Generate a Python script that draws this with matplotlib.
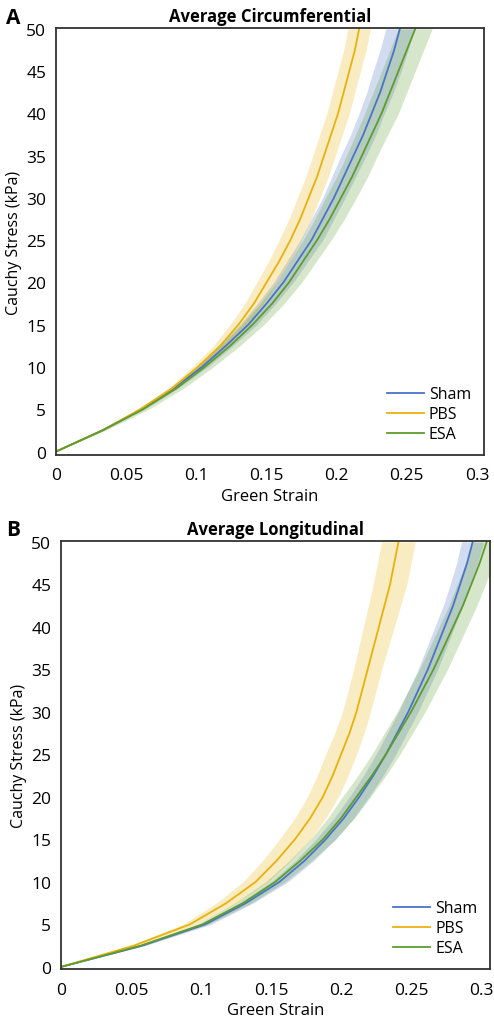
import numpy as np
import matplotlib
matplotlib.use("Agg")
import matplotlib.pyplot as plt

plt.rcParams['font.family'] = ['Open Sans', 'DejaVu Sans']

stress = [0, 2.5, 5, 7.5, 10, 12.5, 15, 17.5, 20, 22.5, 25,
          27.5, 30, 32.5, 35, 37.5, 40, 42.5, 45, 47.5, 50]

# A: circumferential, mean strain and band half-width
circ_sham = [0, .033, .061, .084, .104, .121, .137, .150, .162, .172, .182,
             .190, .198, .205, .212, .219, .225, .231, .236, .241, .245]
circ_pbs = [0, .033, .060, .083, .101, .117, .130, .141, .150, .159, .167,
            .174, .180, .186, .191, .196, .201, .205, .209, .213, .216]
circ_esa = [0, .033, .062, .086, .106, .124, .140, .154, .166, .176, .186,
            .195, .203, .211, .218, .225, .232, .238, .244, .250, .256]
circ_sham_sd = [0, .001, .002, .003, .004, .005, .006, .0065, .007, .0075, .008,
                .008, .008, .0085, .009, .009, .009, .0095, .010, .010, .010]
circ_pbs_sd = [0, .001, .002, .003, .004, .005, .006, .0065, .007, .0075, .008,
               .008, .008, .008, .008, .008, .008, .008, .008, .008, .008]
circ_esa_sd = [0, .002, .004, .005, .006, .007, .008, .0085, .009, .0095, .010,
               .0105, .011, .011, .011, .0115, .012, .012, .012, .012, .012]

# B: longitudinal
long_sham = [0, .058, .103, .132, .156, .174, .189, .202, .213, .223, .232,
             .240, .248, .255, .262, .268, .274, .280, .285, .290, .294]
long_pbs = [0, .052, .092, .118, .139, .154, .167, .178, .187, .194, .200,
            .206, .211, .215, .219, .223, .227, .231, .235, .238, .241]
long_esa = [0, .057, .101, .130, .153, .171, .187, .200, .211, .222, .232,
            .241, .250, .258, .266, .273, .280, .287, .293, .299, .304]
long_sham_sd = [0, .002, .004, .005, .006, .0065, .007, .007, .007, .007, .007,
                .007, .007, .007, .007, .007, .007, .007, .007, .0075, .008]
long_pbs_sd = [0, .003, .005, .007, .009, .010, .011, .011, .011, .011, .011,
               .0105, .010, .010, .010, .0105, .011, .0115, .012, .012, .012]
long_esa_sd = [0, .002, .004, .006, .007, .008, .009, .0095, .010, .010, .010,
               .010, .010, .010, .010, .010, .010, .010, .010, .010, .010]

labels = ['Sham', 'PBS', 'ESA']
colors = ['#4a74c9', '#e8b20c', '#5e9c2e']

xticks = [0, 0.05, 0.1, 0.15, 0.2, 0.25, 0.3]
xticklabels = ['0', '0.05', '0.1', '0.15', '0.2', '0.25', '0.3']
yticks = [0, 5, 10, 15, 20, 25, 30, 35, 40, 45, 50]

fig = plt.figure(figsize=(4.94, 10.2), dpi=100)

panels = [
    ('A', 'Average Circumferential', [0.1134, 0.553, 0.8664, 0.4186], 0.305, -0.4, 0.992,
     [circ_sham, circ_pbs, circ_esa], [circ_sham_sd, circ_pbs_sd, circ_esa_sd]),
    ('B', 'Average Longitudinal', [0.1235, 0.049, 0.8685, 0.4196], 0.3064, -0.25, 0.490,
     [long_sham, long_pbs, long_esa], [long_sham_sd, long_pbs_sd, long_esa_sd]),
]

for letter, title, rect, xmax, ymin, ly, means, sds in panels:
    ax = fig.add_axes(rect)
    y = np.array(stress)
    for m, sd, c in zip(means, sds, colors):
        m = np.array(m)
        sd = np.array(sd)
        ax.fill_betweenx(y, m - sd, m + sd, color=c, alpha=0.25, lw=0)
    for m, c, lab in zip(means, colors, labels):
        ax.plot(m, y, color=c, lw=1.3, label=lab)

    ax.set_xlim(0, xmax)
    ax.set_ylim(ymin, 50.1)
    ax.set_xticks(xticks)
    ax.set_xticklabels(xticklabels)
    ax.set_yticks(yticks)
    ax.tick_params(length=0, labelsize=12.5)
    ax.tick_params(axis='x', pad=9)
    ax.tick_params(axis='y', pad=7)
    for s in ax.spines.values():
        s.set_linewidth(1.3)
        s.set_color('#333333')
    ax.set_xlabel('Green Strain', fontsize=12, labelpad=3)
    ax.set_ylabel('Cauchy Stress (kPa)', fontsize=11.5, labelpad=3)
    ax.set_title(title, fontsize=12, fontweight='bold', pad=5)
    fig.text(0.012, ly, letter, fontsize=15, fontweight='bold', ha='left', va='top')
    ax.legend(loc='lower right', frameon=False, fontsize=11.5, handlelength=2.3,
              handletextpad=0.3, labelspacing=0.25, borderaxespad=0.4)

fig.savefig('out.png', dpi=100)
